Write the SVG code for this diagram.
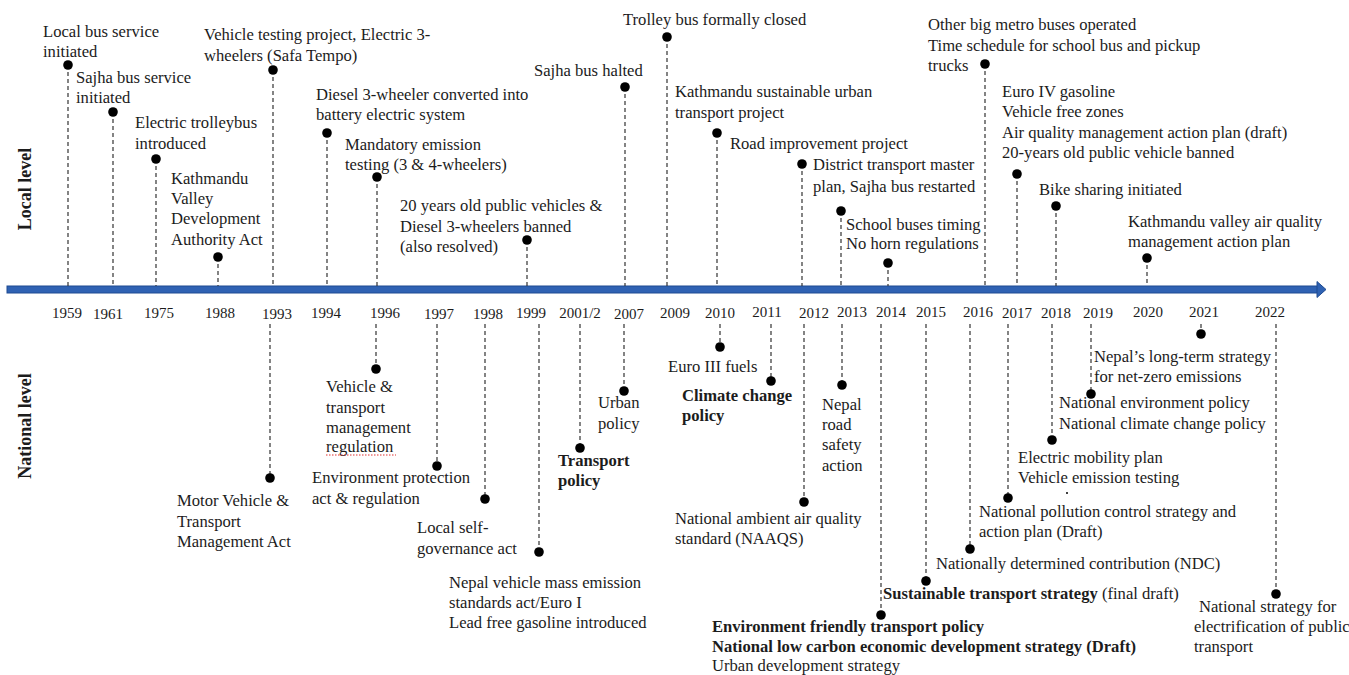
<svg xmlns="http://www.w3.org/2000/svg" width="1349" height="675" viewBox="0 0 1349 675">
<style>
  text { font-family: "Liberation Serif", "Times New Roman", serif; fill: #1c1c1c; }
  .t { font-size: 16.6px; }
  .b { font-size: 16.6px; font-weight: bold; }
  .yr { font-size: 15px; text-anchor: middle; }
  .lvl { font-size: 18px; font-weight: bold; text-anchor: middle; }
  .dash { stroke: #333; stroke-width: 1.2; stroke-dasharray: 4 3; fill: none; }
  .dot { fill: #000; }
</style>
<rect width="1349" height="675" fill="#fff"/>

<g id="axis">
  <rect x="7" y="286" width="1312" height="7" fill="#2f62b3" stroke="#1f4b92" stroke-width="1"/>
  <polygon points="1317,281.5 1326,289.5 1317,297.5" fill="#2f62b3" stroke="#1f4b92" stroke-width="1"/>
</g>

<g id="level-labels">
  <text class="lvl" transform="translate(31,189) rotate(-90)">Local level</text>
  <text class="lvl" transform="translate(31,426) rotate(-90)">National level</text>
</g>

<g id="years">
  <text class="yr" x="67" y="318">1959</text>
  <text class="yr" x="108" y="319">1961</text>
  <text class="yr" x="159" y="318">1975</text>
  <text class="yr" x="220" y="318">1988</text>
  <text class="yr" x="277" y="319">1993</text>
  <text class="yr" x="326" y="318">1994</text>
  <text class="yr" x="385" y="318">1996</text>
  <text class="yr" x="439" y="319">1997</text>
  <text class="yr" x="488" y="319">1998</text>
  <text class="yr" x="531" y="318">1999</text>
  <text class="yr" x="580" y="318">2001/2</text>
  <text class="yr" x="629" y="319">2007</text>
  <text class="yr" x="675" y="318">2009</text>
  <text class="yr" x="720" y="318">2010</text>
  <text class="yr" x="767" y="317">2011</text>
  <text class="yr" x="814" y="318">2012</text>
  <text class="yr" x="852" y="317">2013</text>
  <text class="yr" x="891" y="317">2014</text>
  <text class="yr" x="931" y="317">2015</text>
  <text class="yr" x="978" y="317">2016</text>
  <text class="yr" x="1017" y="318">2017</text>
  <text class="yr" x="1056" y="318">2018</text>
  <text class="yr" x="1098" y="318">2019</text>
  <text class="yr" x="1148" y="317">2020</text>
  <text class="yr" x="1204" y="317">2021</text>
  <text class="yr" x="1270" y="317">2022</text>
</g>

<g id="connectors">
  <!-- local level -->
  <line class="dash" x1="68" y1="65" x2="68" y2="286"/>
  <line class="dash" x1="113" y1="112" x2="113" y2="286"/>
  <line class="dash" x1="156" y1="159" x2="156" y2="286"/>
  <line class="dash" x1="218" y1="257" x2="218" y2="286"/>
  <line class="dash" x1="273" y1="70" x2="273" y2="286"/>
  <line class="dash" x1="327" y1="133" x2="327" y2="286"/>
  <line class="dash" x1="377" y1="177" x2="377" y2="286"/>
  <line class="dash" x1="527" y1="240" x2="527" y2="286"/>
  <line class="dash" x1="625" y1="87" x2="625" y2="286"/>
  <line class="dash" x1="667" y1="37" x2="667" y2="286"/>
  <line class="dash" x1="717" y1="133" x2="717" y2="286"/>
  <line class="dash" x1="802" y1="164" x2="802" y2="286"/>
  <line class="dash" x1="841" y1="211" x2="841" y2="286"/>
  <line class="dash" x1="888" y1="263" x2="888" y2="286"/>
  <line class="dash" x1="985" y1="64" x2="985" y2="286"/>
  <line class="dash" x1="1017" y1="174" x2="1017" y2="286"/>
  <line class="dash" x1="1056" y1="206" x2="1056" y2="286"/>
  <line class="dash" x1="1147" y1="258" x2="1147" y2="286"/>
  <!-- national level -->
  <line class="dash" x1="270" y1="324" x2="270" y2="478"/>
  <line class="dash" x1="376" y1="324" x2="376" y2="369"/>
  <line class="dash" x1="437" y1="324" x2="437" y2="466"/>
  <line class="dash" x1="485" y1="324" x2="485" y2="499"/>
  <line class="dash" x1="539" y1="324" x2="539" y2="552"/>
  <line class="dash" x1="580" y1="324" x2="580" y2="448"/>
  <line class="dash" x1="624" y1="324" x2="624" y2="391"/>
  <line class="dash" x1="720" y1="324" x2="720" y2="347"/>
  <line class="dash" x1="771" y1="324" x2="771" y2="381"/>
  <line class="dash" x1="804" y1="324" x2="804" y2="502"/>
  <line class="dash" x1="842" y1="324" x2="842" y2="385"/>
  <line class="dash" x1="881" y1="324" x2="881" y2="615"/>
  <line class="dash" x1="926" y1="324" x2="926" y2="581"/>
  <line class="dash" x1="970" y1="324" x2="970" y2="549"/>
  <line class="dash" x1="1008" y1="324" x2="1008" y2="498"/>
  <line class="dash" x1="1052" y1="324" x2="1052" y2="440"/>
  <line class="dash" x1="1091" y1="324" x2="1091" y2="394"/>
  <line class="dash" x1="1201" y1="324" x2="1201" y2="334"/>
  <line class="dash" x1="1276" y1="324" x2="1276" y2="594"/>
</g>

<!-- Local level events -->
<g id="l1959"><circle class="dot" cx="68" cy="65" r="4.8"/>
  <text class="t" x="43" y="37">Local bus service</text><text class="t" x="43" y="57">initiated</text></g>
<g id="l1961"><circle class="dot" cx="113" cy="112" r="4.8"/>
  <text class="t" x="76" y="83">Sajha bus service</text><text class="t" x="76" y="103">initiated</text></g>
<g id="l1975"><circle class="dot" cx="156" cy="159" r="4.8"/>
  <text class="t" x="135" y="128">Electric trolleybus</text><text class="t" x="135" y="149">introduced</text></g>
<g id="l1988"><circle class="dot" cx="218" cy="257" r="4.8"/>
  <text class="t" x="171" y="184">Kathmandu</text><text class="t" x="171" y="204">Valley</text>
  <text class="t" x="171" y="224">Development</text><text class="t" x="171" y="245">Authority Act</text></g>
<g id="l1993"><circle class="dot" cx="273" cy="70" r="4.8"/>
  <text class="t" x="204" y="40">Vehicle testing project, Electric 3-</text><text class="t" x="204" y="61">wheelers (Safa Tempo)</text></g>
<g id="l1994"><circle class="dot" cx="327" cy="133" r="4.8"/>
  <text class="t" x="316" y="100">Diesel 3-wheeler converted into</text><text class="t" x="316" y="120">battery electric system</text></g>
<g id="l1996"><circle class="dot" cx="377" cy="177" r="4.8"/>
  <text class="t" x="345" y="150">Mandatory emission</text><text class="t" x="345" y="170">testing (3 &amp; 4-wheelers)</text></g>
<g id="l1999"><circle class="dot" cx="527" cy="240" r="4.8"/>
  <text class="t" x="400" y="211">20 years old public vehicles &amp;</text><text class="t" x="400" y="232">Diesel 3-wheelers banned</text>
  <text class="t" x="400" y="252">(also resolved)</text></g>
<g id="l2007"><circle class="dot" cx="625" cy="87" r="4.8"/>
  <text class="t" x="534" y="76">Sajha bus halted</text></g>
<g id="l2009"><circle class="dot" cx="667" cy="37" r="4.8"/>
  <text class="t" x="623" y="25">Trolley bus formally closed</text></g>
<g id="l2010"><circle class="dot" cx="717" cy="133" r="4.8"/>
  <text class="t" x="675" y="97">Kathmandu sustainable urban</text><text class="t" x="675" y="118">transport project</text></g>
<g id="l2012"><circle class="dot" cx="802" cy="164" r="4.8"/>
  <text class="t" x="730" y="149">Road improvement project</text>
  <text class="t" x="813" y="170">District transport master</text><text class="t" x="813" y="192">plan, Sajha bus restarted</text></g>
<g id="l2013"><circle class="dot" cx="841" cy="211" r="4.8"/>
  <text class="t" x="846" y="230">School buses timing</text><text class="t" x="846" y="249">No horn regulations</text></g>
<g id="l2014"><circle class="dot" cx="888" cy="263" r="4.8"/></g>
<g id="l2016"><circle class="dot" cx="985" cy="64" r="4.8"/>
  <text class="t" x="928" y="30">Other big metro buses operated</text><text class="t" x="928" y="51">Time schedule for school bus and pickup</text>
  <text class="t" x="928" y="71">trucks</text></g>
<g id="l2017"><circle class="dot" cx="1017" cy="174" r="4.8"/>
  <text class="t" x="1002" y="97">Euro IV gasoline</text><text class="t" x="1002" y="117">Vehicle free zones</text>
  <text class="t" x="1002" y="138">Air quality management action plan (draft)</text><text class="t" x="1002" y="158">20-years old public vehicle banned</text></g>
<g id="l2018"><circle class="dot" cx="1056" cy="206" r="4.8"/>
  <text class="t" x="1039" y="195">Bike sharing initiated</text></g>
<g id="l2020"><circle class="dot" cx="1147" cy="258" r="4.8"/>
  <text class="t" x="1128" y="227">Kathmandu valley air quality</text><text class="t" x="1128" y="247">management action plan</text></g>

<!-- National level events -->
<g id="n1993"><circle class="dot" cx="270" cy="478" r="4.8"/>
  <text class="t" x="177" y="506">Motor Vehicle &amp;</text><text class="t" x="177" y="527">Transport</text>
  <text class="t" x="177" y="547">Management Act</text></g>
<g id="n1996"><circle class="dot" cx="376" cy="369" r="4.8"/>
  <text class="t" x="326" y="392">Vehicle &amp;</text><text class="t" x="326" y="413">transport</text>
  <text class="t" x="326" y="433">management</text><text class="t" x="326" y="452">regulation</text>
  <line x1="326" y1="455" x2="396" y2="455" stroke="#e03030" stroke-width="1.2" stroke-dasharray="1.5 1.5"/></g>
<g id="n1997"><circle class="dot" cx="437" cy="466" r="4.8"/>
  <text class="t" x="312" y="483">Environment protection</text><text class="t" x="312" y="504">act &amp; regulation</text></g>
<g id="n1998"><circle class="dot" cx="485" cy="499" r="4.8"/>
  <text class="t" x="417" y="533">Local self-</text><text class="t" x="417" y="554">governance act</text></g>
<g id="n1999"><circle class="dot" cx="539" cy="552" r="4.8"/>
  <text class="t" x="449" y="588">Nepal vehicle mass emission</text><text class="t" x="449" y="608">standards act/Euro I</text>
  <text class="t" x="449" y="628">Lead free gasoline introduced</text></g>
<g id="n2001"><circle class="dot" cx="580" cy="448" r="4.8"/>
  <text class="b" x="558" y="466">Transport</text><text class="b" x="558" y="486">policy</text></g>
<g id="n2007"><circle class="dot" cx="624" cy="391" r="4.8"/>
  <text class="t" x="598" y="408">Urban</text><text class="t" x="598" y="429">policy</text></g>
<g id="n2010"><circle class="dot" cx="720" cy="347" r="4.8"/>
  <text class="t" x="668" y="372">Euro III fuels</text></g>
<g id="n2011"><circle class="dot" cx="771" cy="381" r="4.8"/>
  <text class="b" x="682" y="401">Climate change</text><text class="b" x="682" y="421">policy</text></g>
<g id="n2012"><circle class="dot" cx="804" cy="502" r="4.8"/>
  <text class="t" x="675" y="524">National ambient air quality</text><text class="t" x="675" y="544">standard (NAAQS)</text></g>
<g id="n2013"><circle class="dot" cx="842" cy="385" r="4.8"/>
  <text class="t" x="822" y="410">Nepal</text><text class="t" x="822" y="430">road</text>
  <text class="t" x="822" y="450">safety</text><text class="t" x="822" y="471">action</text></g>
<g id="n2014"><circle class="dot" cx="881" cy="615" r="4.8"/>
  <text class="b" x="712" y="632">Environment friendly transport policy</text>
  <text class="b" x="712" y="652">National low carbon economic development strategy (Draft)</text>
  <text class="t" x="712" y="670.5">Urban development strategy</text></g>
<g id="n2015"><circle class="dot" cx="926" cy="581" r="4.8"/>
  <text class="t" x="883" y="599"><tspan font-weight="bold">Sustainable transport strategy</tspan> (final draft)</text></g>
<g id="n2016"><circle class="dot" cx="970" cy="549" r="4.8"/>
  <text class="t" x="936" y="569">Nationally determined contribution (NDC)</text></g>
<g id="n2017"><circle class="dot" cx="1008" cy="498" r="4.8"/>
  <text class="t" x="979" y="517">National pollution control strategy and</text><text class="t" x="979" y="537">action plan (Draft)</text></g>
<g id="n2018"><circle class="dot" cx="1052" cy="440" r="4.8"/>
  <text class="t" x="1018" y="463">Electric mobility plan</text><text class="t" x="1018" y="483">Vehicle emission testing</text>
  <circle cx="1067" cy="493" r="1" fill="#000"/></g>
<g id="n2019"><circle class="dot" cx="1091" cy="394" r="4.8"/>
  <text class="t" x="1059" y="408">National environment policy</text><text class="t" x="1059" y="429">National climate change policy</text></g>
<g id="n2021"><circle class="dot" cx="1201" cy="334" r="4.8"/>
  <text class="t" x="1094" y="362">Nepal’s long-term strategy</text><text class="t" x="1094" y="382">for net-zero emissions</text></g>
<g id="n2022"><circle class="dot" cx="1276" cy="594" r="4.8"/>
  <text class="t" x="1199" y="612">National strategy for</text><text class="t" x="1194" y="632">electrification of public</text>
  <text class="t" x="1194" y="652">transport</text></g>
</svg>
